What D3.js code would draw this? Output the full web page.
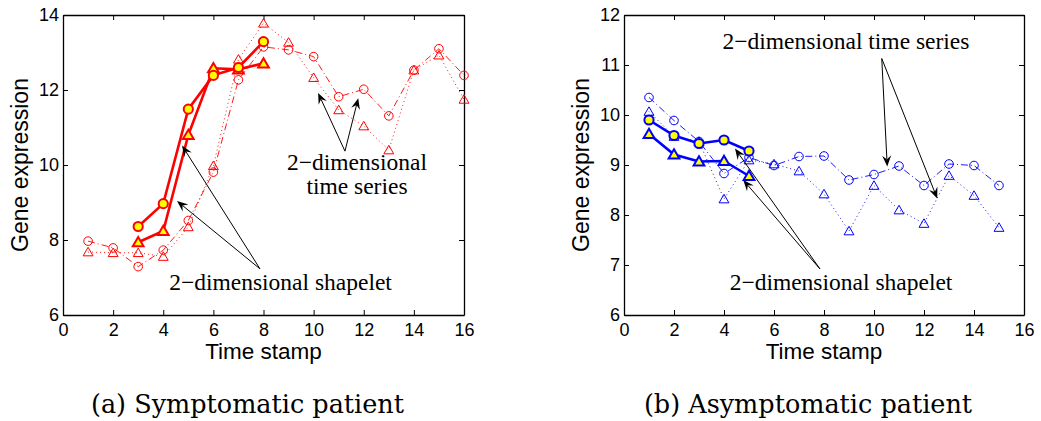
<!DOCTYPE html>
<html>
<head>
<meta charset="utf-8">
<script src="https://cdn.jsdelivr.net/npm/d3@7"></script>
<style>
body { margin: 0; background: #fff; }
</style>
</head>
<body>
<div id="chart"></div>
<script>
// (a) symptomatic patient
var symTime = [1, 2, 3, 4, 5, 6, 7, 8, 9, 10, 11, 12, 13, 14, 15, 16]
var symCircle = [7.97, 7.79, 7.29, 7.73, 8.52, 9.81, 12.27, 13.15, 13.07, 12.89, 11.82, 12.02, 11.31, 12.53, 13.10, 12.39]
var symTriangle = [7.68, 7.66, 7.66, 7.56, 8.35, 9.98, 12.82, 13.78, 13.27, 12.33, 11.47, 11.04, 10.40, 12.53, 12.93, 11.75]
var symShapeTime = [3, 4, 5, 6, 7, 8]
var symShapeCircle = [8.36, 8.97, 11.49, 12.39, 12.60, 13.29]
var symShapeTriangle = [7.94, 8.24, 10.80, 12.58, 12.55, 12.71]

// (b) asymptomatic patient
var asymTime = [1, 2, 3, 4, 5, 6, 7, 8, 9, 10, 11, 12, 13, 14, 15]
var asymCircle = [10.35, 9.89, 9.47, 8.83, 9.15, 8.99, 9.17, 9.18, 8.70, 8.81, 8.98, 8.59, 9.02, 8.99, 8.59]
var asymTriangle = [10.07, 9.57, 9.47, 8.32, 9.10, 9.02, 8.88, 8.42, 7.68, 8.59, 8.10, 7.83, 8.79, 8.39, 7.75]
var asymShapeTime = [1, 2, 3, 4, 5]
var asymShapeCircle = [9.90, 9.59, 9.43, 9.50, 9.28]
var asymShapeTriangle = [9.62, 9.21, 9.07, 9.08, 8.78]

var xTicks = [0, 2, 4, 6, 8, 10, 12, 14, 16]
var symYTicks = [6, 8, 10, 12, 14]
var asymYTicks = [6, 7, 8, 9, 10, 11, 12]

var width = 1041, height = 421

var svg = d3.select("#chart").append("svg")
    .attr("width", width)
    .attr("height", height)
    .style("background", "#fff")

var panels = [
    {
        left: 63, right: 464, top: 15, bottom: 315,
        yDomain: [6, 14], yTicks: symYTicks, color: "red",
        time: symTime, circle: symCircle, triangle: symTriangle,
        shapeTime: symShapeTime, shapeCircle: symShapeCircle, shapeTriangle: symShapeTriangle,
        caption: "(a) Symptomatic patient",
        // annotations in data coordinates
        notes: [
            { lines: ["2\u2212dimensional", "time series"], x: 11.73, y: 9.87, dy: 24,
              from: [11.25, 10.37], to: [[10.18, 11.92], [11.78, 11.78]] },
            { lines: ["2\u2212dimensional shapelet"], x: 8.68, y: 6.67, dy: 0,
              from: [7.86, 7.23], to: [[4.75, 10.52], [4.55, 9.04]] }
        ]
    },
    {
        left: 624, right: 1024, top: 15, bottom: 315,
        yDomain: [6, 12], yTicks: asymYTicks, color: "blue",
        time: asymTime, circle: asymCircle, triangle: asymTriangle,
        shapeTime: asymShapeTime, shapeCircle: asymShapeCircle, shapeTriangle: asymShapeTriangle,
        caption: "(b) Asymptomatic patient",
        notes: [
            { lines: ["2\u2212dimensional time series"], x: 8.88, y: 11.33, dy: 0,
              from: [10.31, 11.13], to: [[10.53, 8.97], [12.53, 8.33]] },
            { lines: ["2\u2212dimensional shapelet"], x: 8.68, y: 6.5, dy: 0,
              from: [7.84, 6.92], to: [[4.44, 9.33], [4.77, 8.70]] }
        ]
    }
]

panels.forEach(drawPanel)

function drawPanel(p) {
    var xScale = d3.scaleLinear().domain([0, 16]).range([p.left, p.right])
    var yScale = d3.scaleLinear().domain(p.yDomain).range([p.bottom, p.top])
    var g = svg.append("g")

    // axes, MATLAB style with inward ticks on all four sides
    g.append("g")
        .attr("transform", "translate(0," + p.bottom + ")")
        .call(d3.axisBottom(xScale).tickValues(xTicks).tickFormat(d3.format("d"))
            .tickSizeInner(-5).tickSizeOuter(0).tickPadding(8))
    g.append("g")
        .attr("transform", "translate(0," + p.top + ")")
        .call(d3.axisTop(xScale).tickValues(xTicks).tickSizeInner(-5).tickSizeOuter(0).tickFormat(""))
    g.append("g")
        .attr("transform", "translate(" + p.left + ",0)")
        .call(d3.axisLeft(yScale).tickValues(p.yTicks).tickFormat(d3.format("d"))
            .tickSizeInner(-5).tickSizeOuter(0).tickPadding(4))
    g.append("g")
        .attr("transform", "translate(" + p.right + ",0)")
        .call(d3.axisRight(yScale).tickValues(p.yTicks).tickSizeInner(-5).tickSizeOuter(0).tickFormat(""))

    g.selectAll(".domain").attr("stroke", "#000").attr("stroke-width", 1.3)
    g.selectAll(".tick line").attr("stroke", "#000").attr("stroke-width", 1)
    g.selectAll(".tick text")
        .attr("font-family", "'Liberation Sans', Arial, sans-serif")
        .attr("font-size", "18px")
        .attr("fill", "#000")

    g.append("text")
        .attr("x", (p.left + p.right) / 2)
        .attr("y", 359)
        .attr("text-anchor", "middle")
        .attr("font-family", "'Liberation Sans', Arial, sans-serif")
        .attr("font-size", "22.5px")
        .text("Time stamp")

    g.append("text")
        .attr("transform", "translate(" + (p.left - 35) + "," + ((p.top + p.bottom) / 2) + ") rotate(-90)")
        .attr("text-anchor", "middle")
        .attr("font-family", "'Liberation Sans', Arial, sans-serif")
        .attr("font-size", "23px")
        .text("Gene expression")

    var line = d3.line()
        .x(d => xScale(d[0]))
        .y(d => yScale(d[1]))

    var circleData = p.time.map((t, i) => [t, p.circle[i]])
    var triangleData = p.time.map((t, i) => [t, p.triangle[i]])
    var shapeCircleData = p.shapeTime.map((t, i) => [t, p.shapeCircle[i]])
    var shapeTriangleData = p.shapeTime.map((t, i) => [t, p.shapeTriangle[i]])

    var tri = d3.symbol().type(d3.symbolTriangle).size(42)
    var triBig = d3.symbol().type(d3.symbolTriangle).size(50)

    // thin time series: dotted triangles, dash-dot circles
    g.append("path")
        .datum(triangleData)
        .attr("d", line)
        .attr("fill", "none")
        .attr("stroke", p.color)
        .attr("stroke-width", 0.9)
        .attr("stroke-dasharray", "1,3")
    g.append("path")
        .datum(circleData)
        .attr("d", line)
        .attr("fill", "none")
        .attr("stroke", p.color)
        .attr("stroke-width", 0.9)
        .attr("stroke-dasharray", "7,3,1,3")

    g.selectAll(null)
        .data(triangleData)
        .enter().append("path")
        .attr("d", tri)
        .attr("transform", d => "translate(" + xScale(d[0]) + "," + (yScale(d[1]) + 1) + ")")
        .attr("fill", "none")
        .attr("stroke", p.color)
        .attr("stroke-width", 1)
    g.selectAll(null)
        .data(circleData)
        .enter().append("circle")
        .attr("cx", d => xScale(d[0]))
        .attr("cy", d => yScale(d[1]))
        .attr("r", 4.3)
        .attr("fill", "none")
        .attr("stroke", p.color)
        .attr("stroke-width", 1)

    // shapelet: thick lines, yellow-filled markers
    g.append("path")
        .datum(shapeTriangleData)
        .attr("d", line)
        .attr("fill", "none")
        .attr("stroke", p.color)
        .attr("stroke-width", 2.6)
    g.append("path")
        .datum(shapeCircleData)
        .attr("d", line)
        .attr("fill", "none")
        .attr("stroke", p.color)
        .attr("stroke-width", 2.6)
    g.selectAll(null)
        .data(shapeTriangleData)
        .enter().append("path")
        .attr("d", triBig)
        .attr("transform", d => "translate(" + xScale(d[0]) + "," + (yScale(d[1]) + 1) + ")")
        .attr("fill", "yellow")
        .attr("stroke", p.color)
        .attr("stroke-width", 2)
    g.selectAll(null)
        .data(shapeCircleData)
        .enter().append("circle")
        .attr("cx", d => xScale(d[0]))
        .attr("cy", d => yScale(d[1]))
        .attr("r", 4.6)
        .attr("fill", "yellow")
        .attr("stroke", p.color)
        .attr("stroke-width", 2)

    // annotations
    p.notes.forEach(function(n) {
        n.to.forEach(function(t) {
            drawArrow(g, xScale(n.from[0]), yScale(n.from[1]), xScale(t[0]), yScale(t[1]))
        })
        var txt = g.append("text")
            .attr("x", xScale(n.x))
            .attr("y", yScale(n.y))
            .attr("text-anchor", "middle")
            .attr("font-family", "'Liberation Serif', 'Times New Roman', serif")
            .attr("font-size", "23.5px")
            .attr("fill", "#000")
        n.lines.forEach(function(s, i) {
            txt.append("tspan")
                .attr("x", xScale(n.x))
                .attr("dy", i == 0 ? 0 : n.dy)
                .text(s)
        })
    })

    svg.append("text")
        .attr("x", (p.left + p.right) / 2 - 16)
        .attr("y", 413)
        .attr("text-anchor", "middle")
        .attr("font-family", "'DejaVu Serif', serif")
        .attr("font-size", "25.5px")
        .attr("fill", "#000")
        .text(p.caption)
}

function drawArrow(g, x1, y1, x2, y2) {
    var ang = Math.atan2(y2 - y1, x2 - x1)
    var len = 11, half = 4.5, notch = 7
    var ux = Math.cos(ang), uy = Math.sin(ang)
    var px = -uy, py = ux
    g.append("line")
        .attr("x1", x1).attr("y1", y1)
        .attr("x2", x2 - ux * notch).attr("y2", y2 - uy * notch)
        .attr("stroke", "#000")
        .attr("stroke-width", 1)
    var pts = [
        [x2, y2],
        [x2 - ux * len + px * half, y2 - uy * len + py * half],
        [x2 - ux * notch, y2 - uy * notch],
        [x2 - ux * len - px * half, y2 - uy * len - py * half]
    ]
    g.append("path")
        .attr("d", "M" + pts.map(d => d.join(",")).join("L") + "Z")
        .attr("fill", "#000")
}
</script>
</body>
</html>
